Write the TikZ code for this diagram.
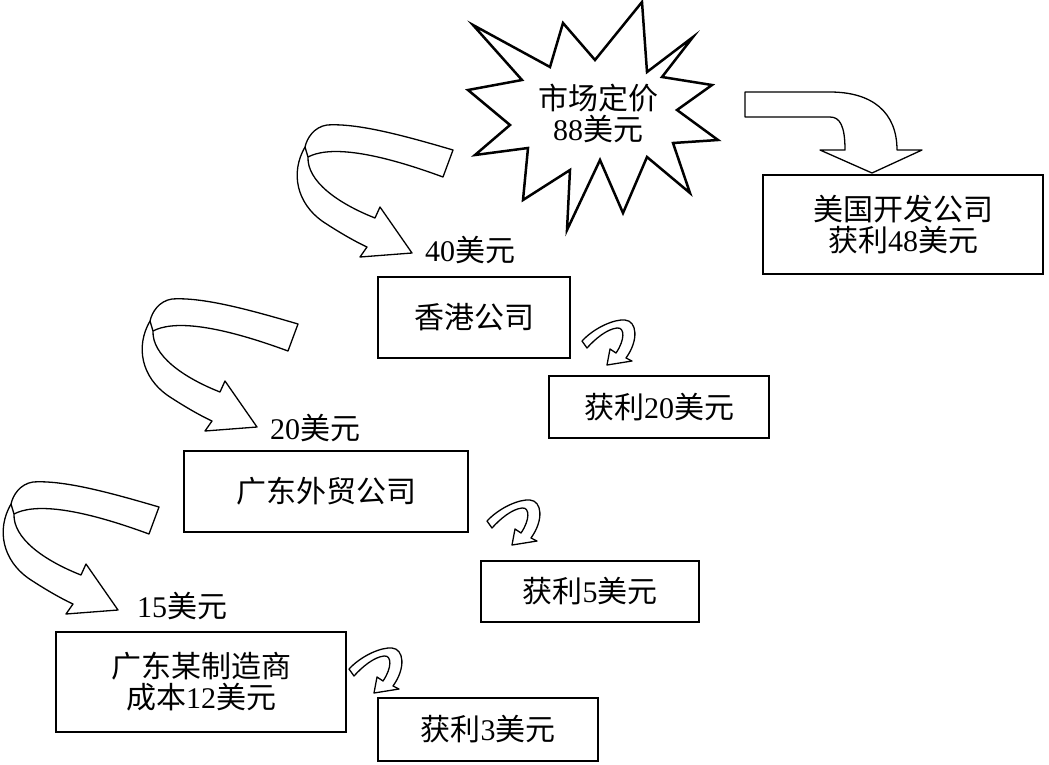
\documentclass[tikz,border=0pt]{standalone}
\usepackage{fontspec}
\setmainfont{Liberation Serif}
\newfontfamily\cjk{Noto Sans CJK SC}
\newcommand\zh[1]{{\cjk #1}}
\usetikzlibrary{positioning}
\tikzset{
  box/.style={draw,line width=2.5pt,align=center,inner sep=0pt},
  price/.style={inner sep=0pt},
  bigarrow/.pic={
    \draw[line width=1.3pt,fill=white,line join=round]
      (41,-103) .. controls (-10,-118) and (-55,-130) .. (-85,-128)
      .. controls (-98,-126) and (-105,-115) .. (-107,-106)
      .. controls (-122,-80) and (-115,-50) .. (-90,-32)
      .. controls (-75,-22) and (-58,-12) .. (-45,-6)
      -- (-52,4) -- (0,0) -- (-32,-46) -- (-37,-35)
      .. controls (-75,-50) and (-105,-72) .. (-104,-96)
      .. controls (-85,-106) and (-45,-104) .. (31,-76)
      -- cycle;
    \draw[line width=1.3pt] (-104,-96) -- (-107,-106);
  },
  smallarrow/.pic={
    \draw[line width=1.3pt,fill=white,line join=round]
      (-25,-24) .. controls (-12,-38) and (8,-46) .. (18,-45)
      .. controls (30,-44) and (32,-25) .. (19,-7)
      -- (25,-4) -- (0,0) -- (3,-16) -- (9,-12)
      .. controls (18,-25) and (18,-38) .. (10,-37)
      .. controls (0,-36) and (-12,-26) .. (-20,-17)
      -- cycle;
  },
}

\begin{document}
\begin{tikzpicture}[x=1pt,y=-1pt,font=\fontsize{30}{31}\selectfont]
\useasboundingbox (0,0) rectangle (1049,764);
\draw[line width=2.5pt,line join=miter]
  (473,25) -- (522,80) -- (468,90) -- (510,125) -- (475,155) -- (528,148)
  -- (523,200) -- (570,170) -- (567,230) -- (600,160) -- (623,213) -- (647,157)
  -- (690,193) -- (673,143) -- (718,140) -- (677,110) -- (712,85) -- (662,77)
  -- (693,37) -- (647,72) -- (642,2) -- (595,60) -- (563,23) -- (550,67) -- cycle;
\node[price,align=center] (mkt) at (598,113) {\zh{市场定价}\\88\zh{美元}};

\node[box,minimum width=280,minimum height=99] (usa) at (903,224.5) {\zh{美国开发公司}\\\zh{获利}48\zh{美元}};
\node[box,minimum width=192,minimum height=81] (hk) at (474,317.5) {\zh{香港公司}};
\node[box,minimum width=220,minimum height=62] (p20) at (659,407) {\zh{获利}20\zh{美元}};
\node[box,minimum width=284,minimum height=81] (gd) at (326,491.5) {\zh{广东外贸公司}};
\node[box,minimum width=218,minimum height=61] (p5) at (590,591.5) {\zh{获利}5\zh{美元}};
\node[box,minimum width=290,minimum height=100] (mfr) at (201,682) {\zh{广东某制造商}\\\zh{成本}12\zh{美元}};
\node[box,minimum width=220,minimum height=63] (p3) at (488,729.5) {\zh{获利}3\zh{美元}};

\node[price] (l40) at (470,250) {40\zh{美元}};
\node[price] (l20) at (315,428) {20\zh{美元}};
\node[price] (l15) at (182,606) {15\zh{美元}};

\draw[line width=1.3pt,line join=round]
  (745,92) -- (830,92) .. controls (872,92) and (897,112) .. (897,150)
  -- (922,150) -- (872,173) -- (820,150) -- (845,150)
  .. controls (845,126) and (840,117) .. (830,117) -- (745,117) -- cycle;

\pic at (412,253) {bigarrow};
\pic at (257,427) {bigarrow};
\pic at (118,610) {bigarrow};
\pic at (607,365) {smallarrow};
\pic at (512,545) {smallarrow};
\pic at (374,693) {smallarrow};
\end{tikzpicture}
\end{document}
